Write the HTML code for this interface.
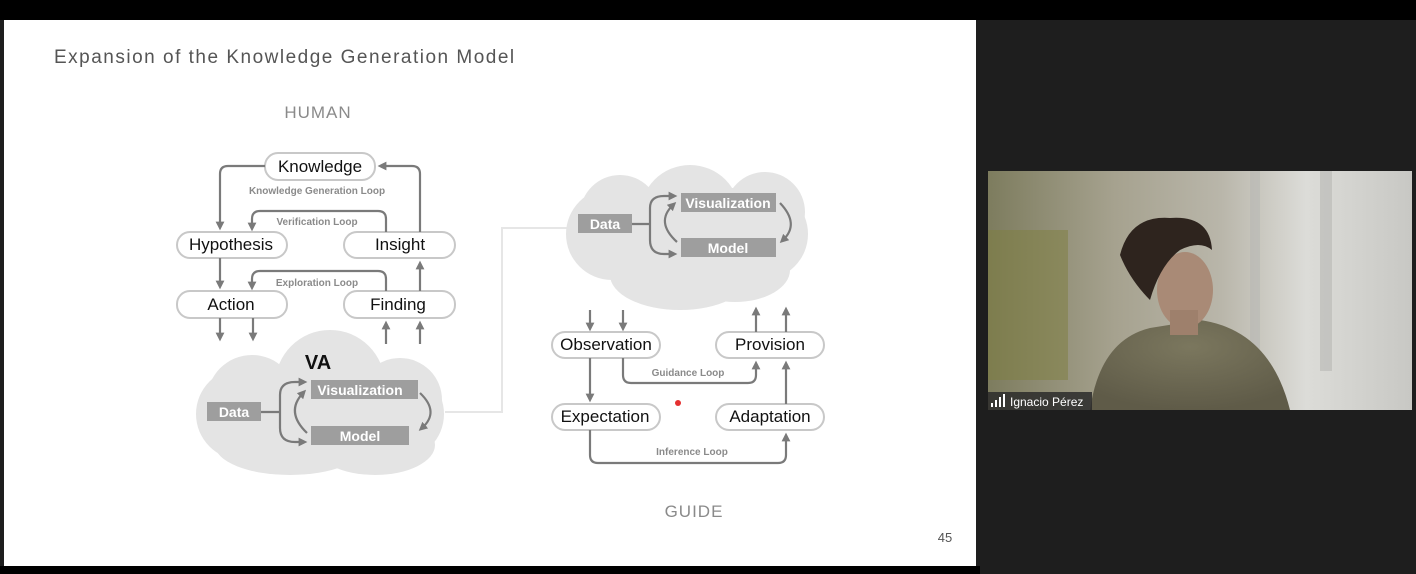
<!DOCTYPE html>
<html><head><meta charset="utf-8"><style>
html,body{margin:0;padding:0;background:#1e1e1e;width:1416px;height:574px;overflow:hidden}
svg{display:block}
text{font-family:"Liberation Sans",sans-serif}
</style></head><body>
<svg width="1416" height="574" viewBox="0 0 1416 574" xmlns="http://www.w3.org/2000/svg">
<defs>
<marker id="a" viewBox="0 0 10 10" refX="5" refY="5" markerWidth="4" markerHeight="4" orient="auto"><path d="M0,0 L10,5 L0,10 z" fill="#7a7a7a"/></marker>
<linearGradient id="bg" x1="0" x2="1" y1="0" y2="0">
<stop offset="0" stop-color="#7d7c5e"/><stop offset="0.3" stop-color="#a6a28f"/><stop offset="0.55" stop-color="#b9b6aa"/><stop offset="0.75" stop-color="#dcdcd8"/><stop offset="1" stop-color="#c8c8c4"/></linearGradient>
<radialGradient id="sh" cx="0.5" cy="0.3" r="0.7"><stop offset="0" stop-color="#7b775e"/><stop offset="1" stop-color="#5f5b48"/></radialGradient>
</defs>
<rect x="0" y="0" width="1416" height="20" fill="#000"/>
<rect x="4" y="20" width="972" height="546" fill="#fff"/>
<rect x="0" y="566" width="980" height="8" fill="#000"/>
<text x="54" y="63" font-size="19" fill="#555" letter-spacing="1.5">Expansion of the Knowledge Generation Model</text>
<text x="318" y="118" font-size="17" fill="#8a8a8a" text-anchor="middle" letter-spacing="1">HUMAN</text>
<text x="694" y="517" font-size="17" fill="#8a8a8a" text-anchor="middle" letter-spacing="1">GUIDE</text>
<text x="945" y="542" font-size="13" fill="#555" text-anchor="middle">45</text>

<polyline points="445,412 502,412 502,228 570,228" fill="none" stroke="#e6e6e6" stroke-width="2"/>

<g fill="#e4e4e4">
<rect x="196" y="368" width="248" height="92" rx="46"/>
<circle cx="330" cy="385" r="55"/>
<circle cx="252" cy="400" r="45"/>
<circle cx="400" cy="400" r="42"/>
<ellipse cx="290" cy="445" rx="75" ry="30"/>
<ellipse cx="375" cy="445" rx="60" ry="30"/>
</g>
<text x="318" y="369" font-size="20" font-weight="bold" text-anchor="middle" fill="#111">VA</text>
<rect x="207" y="402" width="54" height="19" fill="#9e9e9e"/>
<text x="234" y="417" font-size="14" font-weight="bold" fill="#fff" text-anchor="middle">Data</text>
<rect x="311" y="380" width="107" height="19" fill="#9e9e9e"/>
<text x="360" y="395" font-size="14" font-weight="bold" fill="#fff" text-anchor="middle">Visualization</text>
<rect x="311" y="426" width="98" height="19" fill="#9e9e9e"/>
<text x="360" y="441" font-size="14" font-weight="bold" fill="#fff" text-anchor="middle">Model</text>
<g fill="none" stroke="#7a7a7a" stroke-width="2.2">
<path d="M261,412 H280"/>
<path d="M280,412 V395 Q280,382 295,382 H303" marker-end="url(#a)"/>
<path d="M280,412 V428 Q280,442 295,442 H303" marker-end="url(#a)"/>
<path d="M307,433 Q285,412 303,393" marker-end="url(#a)"/>
<path d="M420,393 Q440,412 422,428" marker-end="url(#a)"/>
</g>

<g fill="#e4e4e4">
<rect x="566" y="188" width="242" height="92" rx="46"/>
<circle cx="690" cy="215" r="50"/>
<circle cx="620" cy="215" r="40"/>
<circle cx="765" cy="212" r="40"/>
<ellipse cx="680" cy="275" rx="70" ry="35"/>
<ellipse cx="735" cy="270" rx="55" ry="32"/>
</g>
<rect x="578" y="214" width="54" height="19" fill="#9e9e9e"/>
<text x="605" y="229" font-size="14" font-weight="bold" fill="#fff" text-anchor="middle">Data</text>
<rect x="681" y="193" width="95" height="19" fill="#9e9e9e"/>
<text x="728" y="208" font-size="14" font-weight="bold" fill="#fff" text-anchor="middle">Visualization</text>
<rect x="681" y="238" width="95" height="19" fill="#9e9e9e"/>
<text x="728" y="253" font-size="14" font-weight="bold" fill="#fff" text-anchor="middle">Model</text>
<g fill="none" stroke="#7a7a7a" stroke-width="2.2">
<path d="M632,224 H650"/>
<path d="M650,224 V208 Q650,196 664,196 H673" marker-end="url(#a)"/>
<path d="M650,224 V240 Q650,254 664,254 H673" marker-end="url(#a)"/>
<path d="M677,242 Q655,222 673,205" marker-end="url(#a)"/>
<path d="M780,203 Q800,224 783,240" marker-end="url(#a)"/>
</g>

<g fill="#fff" stroke="#c8c8c8" stroke-width="2">
<rect x="265" y="153" width="110" height="27" rx="13"/>
<rect x="177" y="232" width="110" height="26" rx="13"/>
<rect x="344" y="232" width="111" height="26" rx="13"/>
<rect x="177" y="291" width="110" height="27" rx="13"/>
<rect x="344" y="291" width="111" height="27" rx="13"/>
<rect x="552" y="332" width="108" height="26" rx="13"/>
<rect x="716" y="332" width="108" height="26" rx="13"/>
<rect x="552" y="404" width="108" height="26" rx="13"/>
<rect x="716" y="404" width="108" height="26" rx="13"/>
</g>
<g font-size="17" fill="#111" text-anchor="middle">
<text x="320" y="172">Knowledge</text>
<text x="231" y="250">Hypothesis</text>
<text x="400" y="250">Insight</text>
<text x="231" y="310">Action</text>
<text x="398" y="310">Finding</text>
<text x="606" y="350">Observation</text>
<text x="770" y="350">Provision</text>
<text x="605" y="422">Expectation</text>
<text x="770" y="422">Adaptation</text>
</g>
<g font-size="10" font-weight="bold" fill="#8a8a8a" text-anchor="middle">
<text x="317" y="194">Knowledge Generation Loop</text>
<text x="317" y="225">Verification Loop</text>
<text x="317" y="286">Exploration Loop</text>
<text x="688" y="376">Guidance Loop</text>
<text x="692" y="455">Inference Loop</text>
</g>
<g fill="none" stroke="#7a7a7a" stroke-width="2.2">
<path d="M265,166 H228 Q220,166 220,174 V226" marker-end="url(#a)"/>
<path d="M420,232 V174 Q420,166 412,166 H382" marker-end="url(#a)"/>
<path d="M386,232 V219 Q386,211 378,211 H260 Q252,211 252,219 V227" marker-end="url(#a)"/>
<path d="M220,258 V285" marker-end="url(#a)"/>
<path d="M386,291 V279 Q386,271 378,271 H260 Q252,271 252,279 V286" marker-end="url(#a)"/>
<path d="M420,291 V265" marker-end="url(#a)"/>
<path d="M220,318 V337" marker-end="url(#a)"/>
<path d="M253,318 V337" marker-end="url(#a)"/>
<path d="M386,344 V325" marker-end="url(#a)"/>
<path d="M420,344 V325" marker-end="url(#a)"/>
<path d="M590,310 V327" marker-end="url(#a)"/>
<path d="M623,310 V327" marker-end="url(#a)"/>
<path d="M756,332 V311" marker-end="url(#a)"/>
<path d="M786,332 V311" marker-end="url(#a)"/>
<path d="M590,358 V398" marker-end="url(#a)"/>
<path d="M623,358 V375 Q623,383 631,383 H748 Q756,383 756,375 V365" marker-end="url(#a)"/>
<path d="M786,404 V365" marker-end="url(#a)"/>
<path d="M590,430 V455 Q590,463 598,463 H778 Q786,463 786,455 V437" marker-end="url(#a)"/>
</g>
<circle cx="678" cy="403" r="3" fill="#e53030"/>

<rect x="988" y="171" width="424" height="239" fill="url(#bg)"/>
<rect x="988" y="230" width="80" height="150" fill="#7e7e3e" opacity="0.5"/>
<rect x="1250" y="171" width="10" height="200" fill="#b8b8b4" opacity="0.6"/>
<rect x="1320" y="171" width="12" height="200" fill="#b8b8b4" opacity="0.6"/>
<path d="M1090,410 Q1100,340 1150,328 L1200,320 Q1270,330 1290,410 Z" fill="url(#sh)"/>
<ellipse cx="1185" cy="290" rx="28" ry="38" fill="#a98a76"/>
<rect x="1170" y="310" width="28" height="25" fill="#9e806c"/>
<path d="M1120,255 Q1130,215 1170,218 Q1210,215 1212,250 Q1200,240 1180,250 Q1160,265 1150,300 Q1130,280 1120,255 Z" fill="#2e241e"/>
<rect x="988" y="392" width="104" height="18" fill="#2a2a2a" opacity="0.85"/>
<g fill="#fff"><rect x="991" y="403" width="2" height="4"/><rect x="995" y="400" width="2" height="7"/><rect x="999" y="397" width="2" height="10"/><rect x="1003" y="394" width="2" height="13"/></g>
<text x="1010" y="406" font-size="12" fill="#fff">Ignacio Pérez</text>
</svg>
</body></html>
